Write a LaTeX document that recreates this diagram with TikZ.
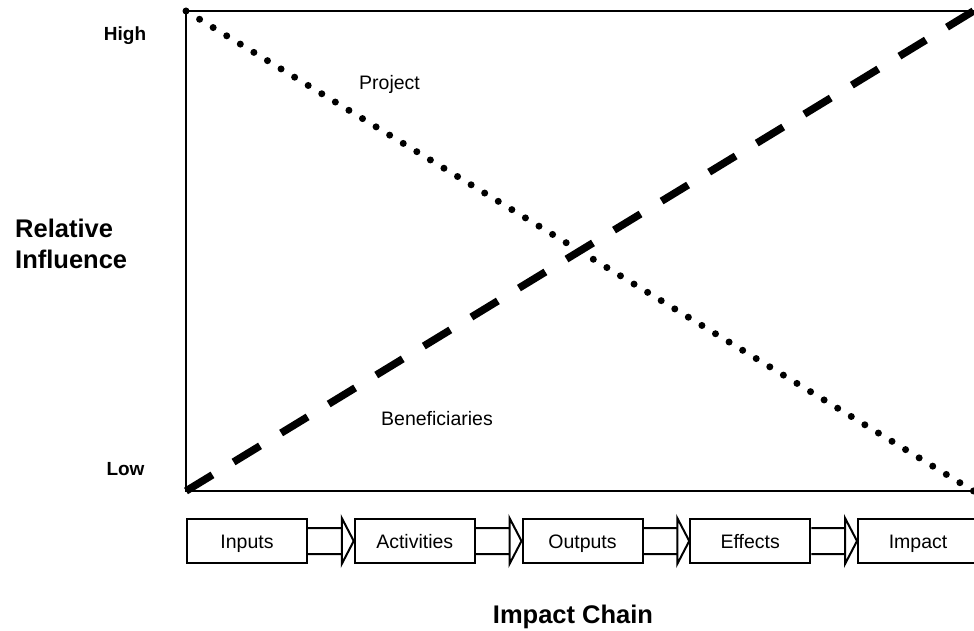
\documentclass[tikz,border=0pt]{standalone}
\usepackage{fontspec}
\setmainfont{Liberation Sans}
\usetikzlibrary{calc}

\tikzset{
  frameline/.style={line width=2pt, line cap=rect},
  projectline/.style={line width=7pt, line cap=round, dash pattern=on 0pt off 15.9pt},
  benefline/.style={line width=7.5pt, line cap=butt, dash pattern=on 31pt off 24.7pt},
  stagebox/.style={draw, line width=2pt, minimum width=120pt, minimum height=44pt,
    inner sep=0pt, text height=18pt, text depth=4pt, anchor=west,
    font=\fontsize{19.5}{23}\selectfont},
  chainarrow/.style={draw, line width=2pt, line join=miter},
  levellabel/.style={font=\bfseries\fontsize{19}{22}\selectfont, inner sep=0pt},
  axislabel/.style={font=\bfseries\fontsize{25.5}{31}\selectfont, inner sep=0pt},
  linelabel/.style={font=\fontsize{19.5}{23}\selectfont, inner sep=0pt}
}

\begin{document}
\begin{tikzpicture}[x=1pt, y=-1pt]
  \useasboundingbox (0,0) rectangle (974,631);

  % corners of the influence panel
  \coordinate (tl) at (186,11);
  \coordinate (bl) at (186,491);
  \coordinate (tr) at (973.5,11);
  \coordinate (br) at (973.5,491);

  % panel outline (right side lies at the page edge)
  \draw[frameline] (tr) -- (tl) -- (bl) -- (br);

  % influence curves
  \draw[projectline] (tl) -- (br);
  \draw[benefline] (bl) -- (tr);

  % labels
  \node[levellabel] (high) at (125,36) {High};
  \node[levellabel] (low) at (125.5,469) {Low};
  \node[axislabel, align=left, anchor=west] (axis) at (15,243.5) {Relative\\Influence};
  \node[linelabel, anchor=base] (proj) at (389.5,90) {Project};
  \node[linelabel, anchor=base] (bene) at (437,425) {Beneficiaries};
  \node[axislabel, anchor=base] (chain) at (573,623) {Impact Chain};

  % impact chain stages
  \node[stagebox] (s1) at (186,541) {Inputs};
  \node[stagebox] (s2) at (353.75,541) {Activities};
  \node[stagebox] (s3) at (521.5,541) {Outputs};
  \node[stagebox] (s4) at (689.25,541) {Effects};
  \node[stagebox] (s5) at (857,541) {Impact};

  % block arrows between stages
  \foreach \a/\b in {s1/s2, s2/s3, s3/s4, s4/s5} {
    \draw[chainarrow]
      ([yshift=-13pt]\a.east) -- ([xshift=-12pt,yshift=-13pt]\b.west)
      -- ([xshift=-12pt]\b.north west) -- (\b.west)
      -- ([xshift=-12pt]\b.south west) -- ([xshift=-12pt,yshift=13pt]\b.west)
      -- ([yshift=13pt]\a.east);
  }
\end{tikzpicture}
\end{document}
